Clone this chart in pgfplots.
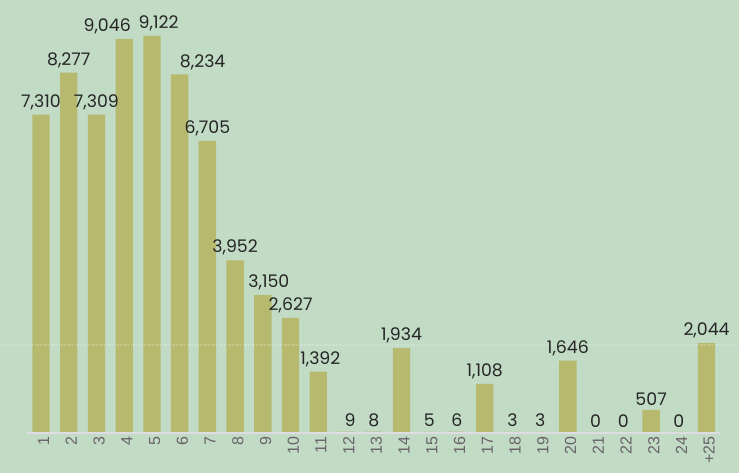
\documentclass[border=0pt]{standalone}
\usepackage{pgfplots}
\usepackage{pgfplotstable}
\pgfplotsset{compat=1.18}
\usepackage{fontspec}
\setmainfont{Poppins}
\newfontfamily\tickfont{Liberation Sans}
\definecolor{bg}{RGB}{193,219,197}
\definecolor{barc}{RGB}{183,186,110}
\definecolor{lab}{RGB}{38,38,38}
\definecolor{tickc}{RGB}{105,98,106}
\definecolor{basec}{RGB}{224,220,228}

% x, count, label shift (pt)
\pgfplotstableread{
x  y     dx
1  7310  0
2  8277  0
3  7309  0
4  9046  -12.75
5  9122  5
6  8234  17.25
7  6705  0
8  3952  0
9  3150  4.5
10 2627  0
11 1392  1.5
12 9     3
13 8     0
14 1934  0
15 5     0
16 6     0
17 1108  0
18 3     0
19 3     0
20 1646  0
21 0     0
22 0     0
23 507   0
24 0     0
25 2044  0
}\counts

\begin{document}
\begin{tikzpicture}
  \fill[bg] (0pt,0pt) rectangle (554.25pt,354.75pt);
  \coordinate (o) at (0pt,30.75pt);
  \begin{axis}[
      at={(o)}, anchor=south west,
      width=554.25pt, height=324pt, scale only axis,
      xmin=-0.478, xmax=26.17, ymin=0, ymax=9950,
      clip=false,
      axis line style={draw=none},
      major tick length=0pt,
      ytick=\empty,
      xtick={1,2,3,4,5,6,7,8,9,10,11,12,13,14,15,16,17,18,19,20,21,22,23,24,25},
      xticklabels={1,2,3,4,5,6,7,8,9,10,11,12,13,14,15,16,17,18,19,20,21,22,23,24,+25},
      xticklabel style={rotate=90, anchor=east, font=\tickfont\fontsize{12}{12}\selectfont, text=tickc, yshift=-2pt},
      ybar, bar width=13pt,
      /pgf/number format/1000 sep={,},
      /pgf/number format/assume math mode=true,
      nodes near coords,
      visualization depends on={\thisrow{dx} \as \dx},
      every node near coord/.append style={font=\fontsize{13}{13}\selectfont, text=lab, inner sep=3.5pt, xshift=\dx pt},
    ]
    \addplot[fill=barc, draw=none] table[x=x, y=y] {\counts};
    \draw[basec, line width=1.5pt] ([yshift=-1pt]axis cs:0.5,0) -- ([yshift=-1pt]axis cs:25.5,0);
    \draw[white, opacity=0.25, line width=1pt, densely dotted] (axis cs:-0.478,2000) -- (axis cs:26.17,2000);
  \end{axis}
  \pgfresetboundingbox
  \path (0pt,0pt) rectangle (554.25pt,354.75pt);
\end{tikzpicture}
\end{document}
